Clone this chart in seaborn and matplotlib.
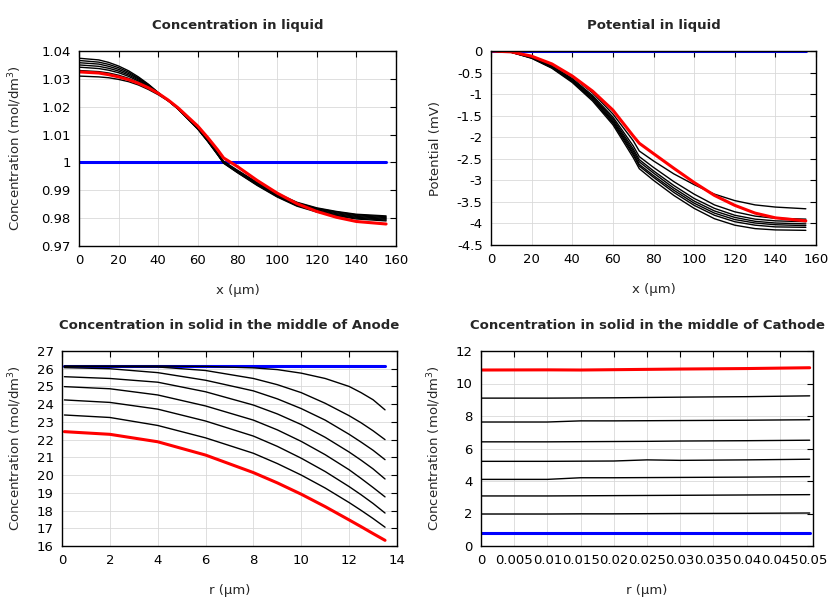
import numpy as np
import pandas as pd
import matplotlib
matplotlib.use("Agg")
import matplotlib.pyplot as plt
import seaborn as sns
from matplotlib.ticker import MultipleLocator, FuncFormatter

# ---------------- data ----------------
# Concentration in liquid (mol/dm3) vs x (um)
x_cl = [0, 10, 15, 20, 25, 30, 35, 40, 45, 50, 60, 65, 70, 73, 80, 90, 100, 110, 120, 130, 140, 155]
cl_initial = [1.0] * len(x_cl)
cl_t1 = [1.0374, 1.0368, 1.0359, 1.0346, 1.0329, 1.0307, 1.0281, 1.0251, 1.0222, 1.0191, 1.0119, 1.0075, 1.0027, 0.9997, 0.9963, 0.9917, 0.9876, 0.9843, 0.9822, 0.9808, 0.9797, 0.9790]
cl_t2 = [1.0366, 1.0360, 1.0352, 1.0340, 1.0324, 1.0303, 1.0279, 1.0250, 1.0222, 1.0192, 1.0120, 1.0076, 1.0028, 0.9998, 0.9964, 0.9919, 0.9878, 0.9845, 0.9825, 0.9810, 0.9800, 0.9793]
cl_t3 = [1.0358, 1.0353, 1.0345, 1.0334, 1.0319, 1.0300, 1.0277, 1.0249, 1.0222, 1.0193, 1.0121, 1.0077, 1.0029, 0.9999, 0.9966, 0.9920, 0.9880, 0.9848, 0.9827, 0.9813, 0.9803, 0.9796]
cl_t4 = [1.0350, 1.0345, 1.0338, 1.0328, 1.0314, 1.0296, 1.0274, 1.0248, 1.0222, 1.0193, 1.0122, 1.0078, 1.0030, 1.0000, 0.9967, 0.9922, 0.9882, 0.9850, 0.9830, 0.9816, 0.9806, 0.9799]
cl_t5 = [1.0342, 1.0337, 1.0331, 1.0322, 1.0309, 1.0292, 1.0271, 1.0247, 1.0222, 1.0193, 1.0123, 1.0079, 1.0031, 1.0001, 0.9968, 0.9924, 0.9884, 0.9852, 0.9833, 0.9819, 0.9809, 0.9802]
cl_t6 = [1.0330, 1.0326, 1.0321, 1.0313, 1.0302, 1.0287, 1.0268, 1.0246, 1.0222, 1.0194, 1.0124, 1.0080, 1.0032, 1.0002, 0.9970, 0.9926, 0.9887, 0.9855, 0.9835, 0.9822, 0.9812, 0.9805]
cl_t7 = [1.0310, 1.0307, 1.0304, 1.0298, 1.0290, 1.0278, 1.0262, 1.0243, 1.0221, 1.0195, 1.0126, 1.0082, 1.0034, 1.0004, 0.9972, 0.9928, 0.9889, 0.9857, 0.9837, 0.9824, 0.9814, 0.9808]
cl_final = [1.0325, 1.0321, 1.0315, 1.0307, 1.0297, 1.0284, 1.0268, 1.0248, 1.0224, 1.0196, 1.0130, 1.0089, 1.0045, 1.0016, 0.9985, 0.9935, 0.9890, 0.9852, 0.9824, 0.9803, 0.9788, 0.9779]

# Potential in liquid (mV) vs x (um)
x_pl = [0, 10, 20, 30, 40, 50, 60, 70, 73, 80, 90, 100, 110, 120, 130, 140, 155]
pl_initial = [0.0] * len(x_pl)
pl_t1 = [0, -0.02, -0.13, -0.32, -0.60, -0.97, -1.46, -2.08, -2.32, -2.55, -2.85, -3.10, -3.32, -3.47, -3.57, -3.62, -3.66]
pl_t2 = [0, -0.02, -0.14, -0.35, -0.64, -1.03, -1.53, -2.20, -2.45, -2.70, -3.03, -3.32, -3.57, -3.73, -3.83, -3.88, -3.90]
pl_t3 = [0, -0.02, -0.15, -0.36, -0.66, -1.06, -1.57, -2.27, -2.52, -2.78, -3.12, -3.42, -3.65, -3.81, -3.90, -3.94, -3.96]
pl_t4 = [0, -0.02, -0.15, -0.37, -0.68, -1.08, -1.61, -2.32, -2.57, -2.83, -3.18, -3.48, -3.71, -3.86, -3.95, -3.99, -4.01]
pl_t5 = [0, -0.03, -0.16, -0.38, -0.70, -1.11, -1.64, -2.37, -2.63, -2.89, -3.23, -3.53, -3.76, -3.91, -3.99, -4.03, -4.05]
pl_t6 = [0, -0.03, -0.16, -0.39, -0.71, -1.13, -1.67, -2.41, -2.67, -2.93, -3.28, -3.58, -3.81, -3.96, -4.04, -4.08, -4.09]
pl_t7 = [0, -0.03, -0.17, -0.40, -0.73, -1.16, -1.71, -2.47, -2.73, -3.00, -3.35, -3.65, -3.89, -4.04, -4.12, -4.15, -4.16]
pl_final = [0, -0.02, -0.12, -0.30, -0.58, -0.93, -1.37, -1.97, -2.14, -2.38, -2.72, -3.05, -3.35, -3.58, -3.76, -3.87, -3.94]

# Concentration in solid, middle of anode (mol/dm3) vs r (um)
r_an = [0.1, 2, 4, 6, 8, 9, 10, 11, 12, 12.5, 13, 13.5]
ca_initial = [26.15] * len(r_an)
ca_t1 = [26.15, 26.15, 26.15, 26.13, 26.05, 25.95, 25.75, 25.45, 25.00, 24.65, 24.25, 23.68]
ca_t2 = [26.13, 26.12, 26.10, 25.90, 25.45, 25.10, 24.65, 24.05, 23.35, 22.95, 22.50, 22.00]
ca_t3 = [26.06, 26.00, 25.78, 25.35, 24.75, 24.30, 23.75, 23.10, 22.30, 21.86, 21.40, 20.87]
ca_t4 = [25.55, 25.45, 25.24, 24.70, 23.95, 23.45, 22.85, 22.13, 21.30, 20.84, 20.35, 19.78]
ca_t5 = [24.99, 24.87, 24.52, 23.90, 23.10, 22.55, 21.90, 21.15, 20.30, 19.81, 19.30, 18.77]
ca_t6 = [24.24, 24.10, 23.72, 23.05, 22.20, 21.62, 20.95, 20.20, 19.35, 18.89, 18.40, 17.86]
ca_t7 = [23.39, 23.25, 22.80, 22.10, 21.23, 20.65, 20.00, 19.27, 18.45, 18.01, 17.55, 17.06]
ca_final = [22.45, 22.30, 21.88, 21.13, 20.14, 19.56, 18.92, 18.22, 17.47, 17.09, 16.70, 16.32]

# Concentration in solid, middle of cathode (mol/dm3) vs r (um)
r_ca = [0.0, 0.01, 0.015, 0.02, 0.025, 0.03, 0.04, 0.0495]
cc_initial = [0.78] * len(r_ca)
cc_t1 = [1.97, 1.97, 1.98, 1.98, 1.99, 2.00, 2.01, 2.03]
cc_t2 = [3.08, 3.08, 3.09, 3.10, 3.11, 3.12, 3.14, 3.16]
cc_t3 = [4.10, 4.10, 4.20, 4.20, 4.21, 4.22, 4.24, 4.27]
cc_t4 = [5.21, 5.21, 5.22, 5.23, 5.30, 5.27, 5.30, 5.34]
cc_t5 = [6.41, 6.41, 6.42, 6.43, 6.44, 6.46, 6.48, 6.51]
cc_t6 = [7.63, 7.63, 7.70, 7.70, 7.71, 7.72, 7.74, 7.77]
cc_t7 = [9.10, 9.10, 9.11, 9.12, 9.14, 9.16, 9.19, 9.24]
cc_final = [10.83, 10.84, 10.83, 10.85, 10.87, 10.89, 10.92, 10.97]

# ---------------- style ----------------
sns.set_theme(style="white")
plt.rcParams["font.family"] = ["DejaVu Sans"]
plt.rcParams["mathtext.fontset"] = "dejavusans"

fig = plt.figure(figsize=(8.4, 6.0), dpi=100)

def make_ax(l, r, t, b):
    return fig.add_axes([l / 840, 1 - b / 600, (r - l) / 840, (b - t) / 600])

ax1 = make_ax(79, 396, 51, 246)
ax2 = make_ax(491, 816, 51, 245)
ax3 = make_ax(62, 397, 351, 546)
ax4 = make_ax(481, 813, 351, 546)

fmt = FuncFormatter(lambda v, p: "%g" % round(v, 6))

def draw(ax, x, initial, blacks, final):
    sns.lineplot(x=x, y=initial, ax=ax, color="#0000ff", linewidth=2.2,
                 estimator=None, sort=False, legend=False)
    for b in blacks:
        sns.lineplot(x=x, y=b, ax=ax, color="black", linewidth=1.0,
                     estimator=None, sort=False, legend=False)
    sns.lineplot(x=x, y=final, ax=ax, color="#ff0000", linewidth=2.2,
                 estimator=None, sort=False, legend=False)

def style(ax, title, xlabel, ylabel, xlim, ylim, xstep, ystep, ypad):
    ax.set_xlim(*xlim)
    ax.set_ylim(*ylim)
    ax.xaxis.set_major_locator(MultipleLocator(xstep))
    ax.yaxis.set_major_locator(MultipleLocator(ystep))
    ax.xaxis.set_major_formatter(fmt)
    ax.yaxis.set_major_formatter(fmt)
    ax.grid(True, color="#d9d9d9", linewidth=0.6)
    ax.set_axisbelow(True)
    for s in ax.spines.values():
        s.set_visible(True)
        s.set_color("black")
        s.set_linewidth(1.0)
    ax.tick_params(direction="in", length=4, width=0.8, top=True, right=True,
                   labelsize=9.5, colors="black", pad=6)
    ax.set_title(title, fontsize=9.5, fontweight="bold", pad=16)
    ax.set_xlabel(xlabel, fontsize=9.5, labelpad=12)
    ax.set_ylabel(ylabel, fontsize=9.5, labelpad=ypad)

draw(ax1, x_cl, cl_initial, [cl_t1, cl_t2, cl_t3, cl_t4, cl_t5, cl_t6, cl_t7], cl_final)
style(ax1, "Concentration in liquid", "x (µm)", "Concentration (mol/dm$^3$)",
      (0, 160), (0.97, 1.04), 20, 0.01, 12)

draw(ax2, x_pl, pl_initial, [pl_t1, pl_t2, pl_t3, pl_t4, pl_t5, pl_t6, pl_t7], pl_final)
style(ax2, "Potential in liquid", "x (µm)", "Potential (mV)",
      (0, 160), (-4.5, 0), 20, 0.5, 11)

draw(ax3, r_an, ca_initial, [ca_t1, ca_t2, ca_t3, ca_t4, ca_t5, ca_t6, ca_t7], ca_final)
style(ax3, "Concentration in solid in the middle of Anode", "r (µm)", "Concentration (mol/dm$^3$)",
      (0, 14), (16, 27), 2, 1, 9)

draw(ax4, r_ca, cc_initial, [cc_t1, cc_t2, cc_t3, cc_t4, cc_t5, cc_t6, cc_t7], cc_final)
style(ax4, "Concentration in solid in the middle of Cathode", "r (µm)", "Concentration (mol/dm$^3$)",
      (0, 0.05), (0, 12), 0.005, 2, 9)

fig.savefig("out.png", dpi=100)
